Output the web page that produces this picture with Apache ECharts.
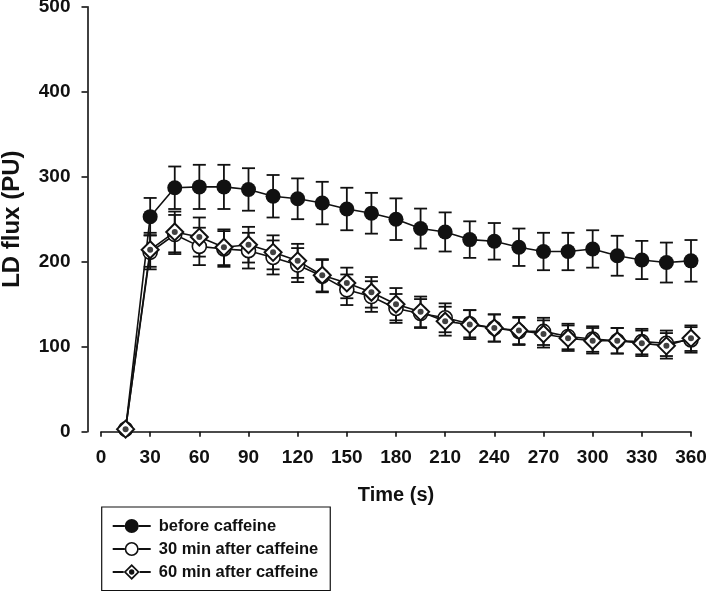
<!DOCTYPE html>
<html>
<head>
<meta charset="utf-8">
<script src="https://cdn.jsdelivr.net/npm/echarts@6/dist/echarts.min.js"></script>
<style>
html,body{margin:0;padding:0;background:#fff;}
#chart{width:707px;height:593px;}
</style>
</head>
<body>
<div id="chart"></div>
<script>
const times = [15,30,45,60,75,90,105,120,135,150,165,180,195,210,225,240,255,270,285,300,315,330,345,360];
const beforeVals = [3,253,287,288,288,285,277,274,269,262,257,250,239,235,226,224,217,212,212,215,207,202,199,201];
const beforeErr  = [2,22,25,26,26,25,25,24,25,25,24,24.5,23.5,23,21.5,21.5,22,22,22,22,23.5,22.5,23.5,24.5];
const min30Vals  = [3,211,232,218,215,213,205,196,183,167,159,145,139,134,127,122,118,118,112,109,107,106,104,108];
const min30Err   = [2,20,23,22,21,21,20,20,19,18,18,17,17,17,16,16,16,16,15,15,15,15,15,15];
const min60Vals  = [3,214,235,229,217,220,211,201,184,175,164,150,141,130,126,122,119,115,110,107,107,104,101,110];
const min60Err   = [2,20,24,23,21,21,20,20,19,18,18,19,18,17,17,16,16,16,15,15,15,15,15,15];
const seriesNames = ['before caffeine','30 min after caffeine','60 min after caffeine'];

const INK = '#111';
const FONT = '"Liberation Sans", Arial, sans-serif';

function pts(vals){ return times.map((t,i)=>[t, vals[i]]); }
function errPts(vals, errs){ return times.map((t,i)=>[t, vals[i], errs[i]]); }

function errorSeries(vals, errs){
  return {
    type: 'custom',
    coordinateSystem: 'cartesian2d',
    silent: true,
    z: 1,
    clip: false,
    data: errPts(vals, errs),
    encode: {x: 0, y: 1},
    renderItem: function(params, api){
      const x = api.value(0), y = api.value(1), e = api.value(2);
      const top = api.coord([x, y + e]);
      const bot = api.coord([x, y - e]);
      const hw = 6.5;
      const st = {stroke: INK, lineWidth: 1.8};
      return {
        type: 'group',
        children: [
          {type:'line', shape:{x1:top[0], y1:top[1], x2:bot[0], y2:bot[1]}, style: st},
          {type:'line', shape:{x1:top[0]-hw, y1:top[1], x2:top[0]+hw, y2:top[1]}, style: st},
          {type:'line', shape:{x1:bot[0]-hw, y1:bot[1], x2:bot[0]+hw, y2:bot[1]}, style: st}
        ]
      };
    }
  };
}

const lineL = 'M0,7 L12,7 L12,9 L0,9 Z M26,7 L38,7 L38,9 L26,9 Z ';
const iconFilled = 'path://' + lineL + 'M12,8 A7,7 0 1,1 26,8 A7,7 0 1,1 12,8 Z';
const iconOpen = 'path://' + lineL + 'M12,8 A7,7 0 1,1 26,8 A7,7 0 1,1 12,8 Z M13.6,8 A5.4,5.4 0 1,0 24.4,8 A5.4,5.4 0 1,0 13.6,8 Z';
const iconDiamond = 'path://M0,7 L11,7 L11,9 L0,9 Z M27,7 L38,7 L38,9 L27,9 Z M19,0 L27,8 L19,16 L11,8 Z M19,2.4 L13.4,8 L19,13.6 L24.6,8 Z M16.3,8 A2.7,2.7 0 1,1 21.7,8 A2.7,2.7 0 1,1 16.3,8 Z';

const chart = echarts.init(document.getElementById('chart'), null, {renderer: 'canvas'});
chart.setOption({
  animation: false,
  backgroundColor: '#fff',
  textStyle: {fontFamily: FONT},
  grid: {left: 101, right: 16, top: 6.7, bottom: 161.3, containLabel: false, outerBoundsMode: 'none'},
  xAxis: {
    type: 'value', min: 0, max: 360, interval: 30,
    name: 'Time (s)', nameLocation: 'middle', nameGap: 54,
    nameTextStyle: {fontFamily: FONT, fontWeight: 'bold', fontSize: 20, color: INK},
    axisLine: {show: true, onZero: false, lineStyle: {color: INK, width: 1.6}},
    axisTick: {show: true, length: 5, lineStyle: {color: INK, width: 1.6}},
    axisLabel: {show: true, margin: 17, fontFamily: FONT, fontWeight: 'bold', fontSize: 19, color: INK},
    splitLine: {show: false}
  },
  yAxis: {
    type: 'value', min: 0, max: 500, interval: 100, offset: 13.5,
    name: 'LD flux (PU)', nameLocation: 'middle', nameGap: 63, nameRotate: 90,
    nameTextStyle: {fontFamily: FONT, fontWeight: 'bold', fontSize: 24, color: INK},
    axisLine: {show: true, onZero: false, lineStyle: {color: INK, width: 1.6}},
    axisTick: {show: true, length: 6, lineStyle: {color: INK, width: 1.6}},
    axisLabel: {show: true, margin: 17, fontFamily: FONT, fontWeight: 'bold', fontSize: 19, color: INK},
    splitLine: {show: false}
  },
  legend: {
    orient: 'vertical', left: 101.7, top: 507,
    padding: [10.5, 12, 10, 11],
    itemWidth: 38, itemHeight: 16, itemGap: 6,
    borderColor: INK, borderWidth: 1.2, backgroundColor: '#fff',
    selectedMode: false,
    itemStyle: {color: INK, borderWidth: 0},
    textStyle: {fontFamily: FONT, fontWeight: 'bold', fontSize: 16.5, color: INK, lineHeight: 16, padding: [0,0,0,3]},
    data: [
      {name: seriesNames[0], icon: iconFilled},
      {name: seriesNames[1], icon: iconOpen},
      {name: seriesNames[2], icon: iconDiamond}
    ]
  },
  series: [
    errorSeries(beforeVals, beforeErr),
    errorSeries(min30Vals, min30Err),
    errorSeries(min60Vals, min60Err),
    {
      name: seriesNames[0], type: 'line', z: 2, data: pts(beforeVals),
      symbol: 'circle', symbolSize: 15, showAllSymbol: true,
      lineStyle: {color: INK, width: 1.6},
      itemStyle: {color: INK, borderWidth: 0}
    },
    {
      name: seriesNames[1], type: 'line', z: 3, data: pts(min30Vals),
      symbol: 'circle', symbolSize: 14, showAllSymbol: true,
      lineStyle: {color: INK, width: 1.6},
      itemStyle: {color: '#fff', borderColor: INK, borderWidth: 1.6}
    },
    {
      name: seriesNames[2], type: 'line', z: 4, data: pts(min60Vals),
      symbol: 'diamond', symbolSize: 17, showAllSymbol: true,
      lineStyle: {color: INK, width: 1.6},
      itemStyle: {color: '#fff', borderColor: INK, borderWidth: 2}
    },
    {
      type: 'scatter', z: 5, silent: true, data: pts(min60Vals),
      symbol: 'circle', symbolSize: 6,
      itemStyle: {color: INK}
    }
  ]
});
</script>
</body>
</html>
